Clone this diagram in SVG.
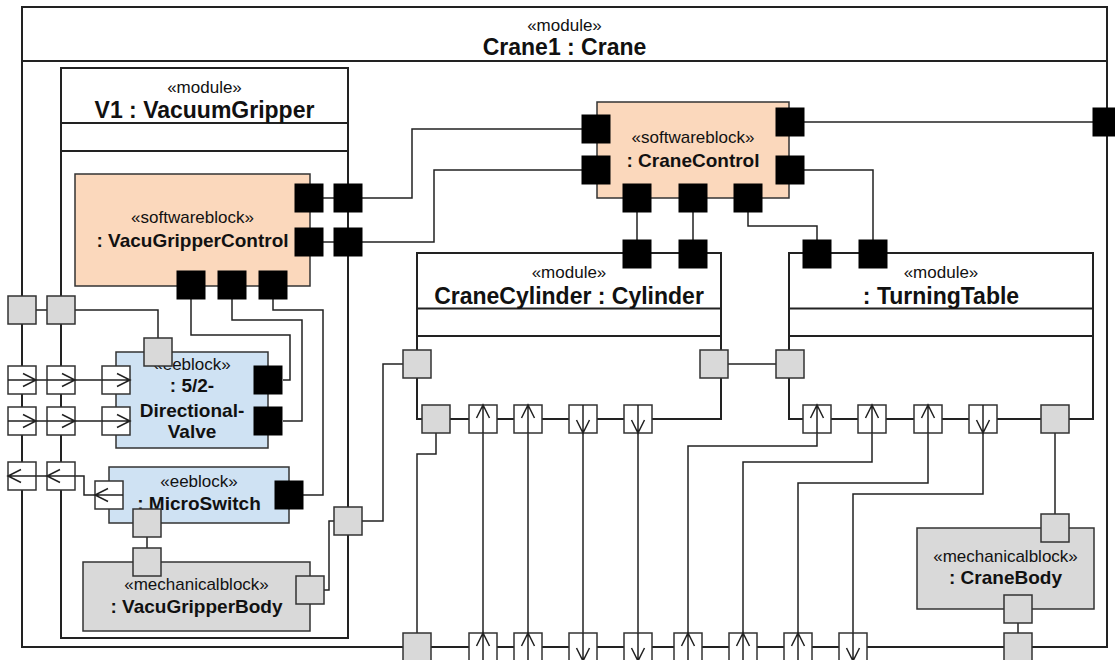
<svg xmlns="http://www.w3.org/2000/svg" width="1115" height="660" viewBox="0 0 1115 660">
<style>
.box{fill:#fff;stroke:#222;stroke-width:2}
.sep{stroke:#222;stroke-width:2}
.sw{fill:#fbd8bc;stroke:#333;stroke-width:1.5}
.ee{fill:#cfe2f3;stroke:#333;stroke-width:1.5}
.mech{fill:#d9d9d9;stroke:#333;stroke-width:1.5}
.pb{fill:#000;stroke:#000;stroke-width:1}
.pg{fill:#d9d9d9;stroke:#333;stroke-width:1.5}
.pf{fill:#fff;stroke:#333;stroke-width:1.5}
.pl{fill:none;stroke:#222;stroke-width:1.5}
.c{fill:none;stroke:#222;stroke-width:1.5}
text{font-family:"Liberation Sans",Arial,sans-serif;text-anchor:middle;fill:#111}
.st{font-size:17px}
.mn{font-size:23px;font-weight:bold}
.bn{font-size:19px;font-weight:bold}
</style>
<defs>
<g id="fr"><rect class="pf" x="0" y="0" width="28" height="28"/><path class="pl" d="M0,14H28M15,7.5L28,14L15,20.5"/></g>
<g id="fl"><rect class="pf" x="0" y="0" width="28" height="28"/><path class="pl" d="M0,14H28M13,7.5L0,14L13,20.5"/></g>
<g id="fu"><rect class="pf" x="0" y="0" width="28" height="28"/><path class="pl" d="M14,0V28M7.5,13L14,0L20.5,13"/></g>
<g id="fd"><rect class="pf" x="0" y="0" width="28" height="28"/><path class="pl" d="M14,0V28M7.5,15L14,28L20.5,15"/></g>
<rect id="pb" class="pb" x="0" y="0" width="28" height="28"/>
<rect id="pg" class="pg" x="0" y="0" width="28" height="28"/>
</defs>

<g id="crane1">
<rect class="box" x="22" y="7" width="1085" height="640"/>
<line class="sep" x1="22" y1="61" x2="1107" y2="61"/>
<text class="st" x="564.5" y="31">«module»</text>
<text class="mn" x="564.5" y="55">Crane1 : Crane</text>
</g>

<g id="v1">
<rect class="box" x="61" y="68" width="287" height="570"/>
<line class="sep" x1="61" y1="123" x2="348" y2="123"/>
<line class="sep" x1="61" y1="151" x2="348" y2="151"/>
<text class="st" x="204.5" y="93">«module»</text>
<text class="mn" x="204.5" y="118">V1 : VacuumGripper</text>
</g>

<g id="cranecylinder">
<rect class="box" x="417" y="253" width="304" height="166"/>
<line class="sep" x1="417" y1="308.5" x2="721" y2="308.5"/>
<line class="sep" x1="417" y1="336" x2="721" y2="336"/>
<text class="st" x="569" y="278">«module»</text>
<text class="mn" x="569" y="304">CraneCylinder : Cylinder</text>
</g>

<g id="turningtable">
<rect class="box" x="789" y="253" width="304" height="166"/>
<line class="sep" x1="789" y1="308.5" x2="1093" y2="308.5"/>
<line class="sep" x1="789" y1="336" x2="1093" y2="336"/>
<text class="st" x="941" y="278">«module»</text>
<text class="mn" x="941" y="304">: TurningTable</text>
</g>

<g id="vacugrippercontrol">
<rect class="sw" x="75" y="174" width="235" height="112"/>
<text class="st" x="192.5" y="223">«softwareblock»</text>
<text class="bn" x="192.5" y="247">: VacuGripperControl</text>
</g>

<g id="cranecontrol">
<rect class="sw" x="597" y="102" width="192" height="96"/>
<text class="st" x="693" y="143">«softwareblock»</text>
<text class="bn" x="693" y="167">: CraneControl</text>
</g>

<g id="valve">
<rect class="ee" x="116" y="352" width="152" height="96"/>
<text class="st" x="192" y="370">«eeblock»</text>
<text class="bn" x="192" y="392">: 5/2-</text>
<text class="bn" x="192" y="417">Directional-</text>
<text class="bn" x="192" y="438">Valve</text>
</g>

<g id="microswitch">
<rect class="ee" x="109" y="467" width="180" height="56"/>
<text class="st" x="199" y="487">«eeblock»</text>
<text class="bn" x="199" y="510">: MicroSwitch</text>
</g>

<g id="vacugripperbody">
<rect class="mech" x="83" y="562" width="227" height="69"/>
<text class="st" x="196.5" y="590">«mechanicalblock»</text>
<text class="bn" x="196.5" y="613">: VacuGripperBody</text>
</g>

<g id="cranebody">
<rect class="mech" x="917" y="528" width="177" height="81"/>
<text class="st" x="1005.5" y="562">«mechanicalblock»</text>
<text class="bn" x="1005.5" y="584">: CraneBody</text>
</g>

<g id="connectors">
<path class="c" d="M36,310H47"/>
<path class="c" d="M75,310H158V338"/>
<path class="c" d="M36,380H47M75,380H102"/>
<path class="c" d="M36,421H47M75,421H102"/>
<path class="c" d="M36,476H47M75,476H84V495H95"/>
<path class="c" d="M191,299V335H290V380H283"/>
<path class="c" d="M232,299V320H302V421H283"/>
<path class="c" d="M273,299V310H323V495H303"/>
<path class="c" d="M147,537V548"/>
<path class="c" d="M296,590H329V521H334"/>
<path class="c" d="M362,521H383V364H403"/>
<path class="c" d="M323,198H334M323,242H334"/>
<path class="c" d="M362,198H412V129H582"/>
<path class="c" d="M362,242H434V170H582"/>
<path class="c" d="M804,122H1093"/>
<path class="c" d="M637,212V240M693,212V240"/>
<path class="c" d="M748,212V226H817V240"/>
<path class="c" d="M804,170H873V240"/>
<path class="c" d="M728,364H776"/>
<path class="c" d="M436,433V454H417V633"/>
<path class="c" d="M483,433V633M528,433V633M583,433V633M638,433V633"/>
<path class="c" d="M688,633V446H817V433"/>
<path class="c" d="M743,633V462H872V433"/>
<path class="c" d="M798,633V483H928V433"/>
<path class="c" d="M983,433V494H853V633"/>
<path class="c" d="M1055,433V514"/>
<path class="c" d="M1018,623V633"/>
</g>

<g id="ports">
<use href="#pb" x="295" y="184"/><use href="#pb" x="295" y="228"/>
<use href="#pb" x="334" y="184"/><use href="#pb" x="334" y="228"/>
<use href="#pb" x="177" y="271"/><use href="#pb" x="218" y="271"/><use href="#pb" x="259" y="271"/>
<use href="#pb" x="254" y="366"/><use href="#pb" x="254" y="407"/>
<use href="#pb" x="275" y="481"/>
<use href="#pb" x="582" y="115"/><use href="#pb" x="582" y="156"/>
<use href="#pb" x="776" y="108"/><use href="#pb" x="776" y="156"/>
<use href="#pb" x="623" y="184"/><use href="#pb" x="679" y="184"/><use href="#pb" x="734" y="184"/>
<use href="#pb" x="623" y="240"/><use href="#pb" x="679" y="240"/>
<use href="#pb" x="803" y="240"/><use href="#pb" x="859" y="240"/>
<use href="#pb" x="1093" y="108"/>

<use href="#pg" x="8" y="296"/><use href="#pg" x="47" y="296"/>
<use href="#pg" x="144" y="338"/>
<use href="#pg" x="133" y="509"/><use href="#pg" x="133" y="548"/>
<use href="#pg" x="296" y="576"/><use href="#pg" x="334" y="507"/>
<use href="#pg" x="403" y="350"/><use href="#pg" x="700" y="350"/><use href="#pg" x="776" y="350"/>
<use href="#pg" x="422" y="405"/><use href="#pg" x="1041" y="405"/>
<use href="#pg" x="1041" y="514"/><use href="#pg" x="1004" y="595"/>
<use href="#pg" x="403" y="633"/><use href="#pg" x="1004" y="633"/>

<use href="#fr" x="8" y="366"/><use href="#fr" x="47" y="366"/><use href="#fr" x="102" y="366"/>
<use href="#fr" x="8" y="407"/><use href="#fr" x="47" y="407"/><use href="#fr" x="102" y="407"/>
<use href="#fl" x="8" y="462"/><use href="#fl" x="47" y="462"/><use href="#fl" x="95" y="481"/>

<use href="#fu" x="469" y="405"/><use href="#fu" x="514" y="405"/>
<use href="#fd" x="569" y="405"/><use href="#fd" x="624" y="405"/>
<use href="#fu" x="803" y="405"/><use href="#fu" x="858" y="405"/><use href="#fu" x="914" y="405"/>
<use href="#fd" x="969" y="405"/>

<use href="#fu" x="469" y="633"/><use href="#fu" x="514" y="633"/>
<use href="#fd" x="569" y="633"/><use href="#fd" x="624" y="633"/>
<use href="#fu" x="674" y="633"/><use href="#fu" x="729" y="633"/><use href="#fu" x="784" y="633"/>
<use href="#fd" x="839" y="633"/>
</g>
</svg>
